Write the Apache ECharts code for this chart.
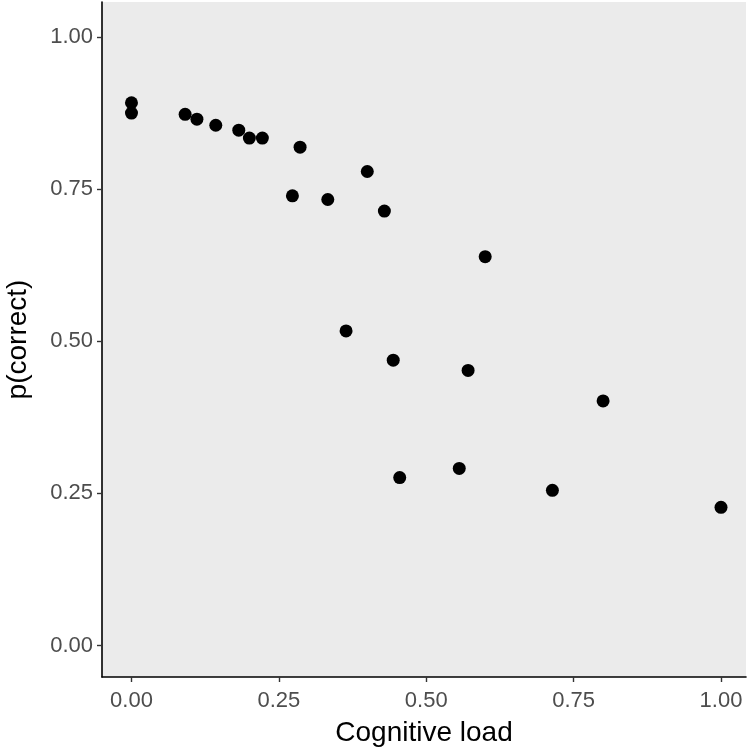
<!DOCTYPE html>
<html>
<head>
<meta charset="utf-8">
<script src="https://cdn.jsdelivr.net/npm/echarts@6/dist/echarts.min.js"></script>
<style>
  html, body { margin: 0; padding: 0; background: #ffffff; }
  #chart { width: 747px; height: 749px; }
</style>
</head>
<body>
<div id="chart"></div>
<script>
// Data
const cognitiveLoad = [0, 0, 0.091, 0.111, 0.143, 0.182, 0.200, 0.222, 0.286, 0.273, 0.333, 0.400, 0.429, 0.600, 0.364, 0.444, 0.571, 0.800, 0.455, 0.556, 0.714, 1.000];
const pCorrect      = [0.892, 0.875, 0.873, 0.865, 0.855, 0.847, 0.834, 0.834, 0.819, 0.739, 0.733, 0.779, 0.714, 0.639, 0.517, 0.469, 0.452, 0.402, 0.276, 0.291, 0.255, 0.227];
const xTicks = [0, 0.25, 0.5, 0.75, 1];
const yTicks = [0, 0.25, 0.5, 0.75, 1];
const xTitle = 'Cognitive load';
const yTitle = 'p(correct)';

const points = cognitiveLoad.map((x, i) => [x, pCorrect[i]]);
const fontFamily = '"Liberation Sans", Arial, Helvetica, sans-serif';

const chart = echarts.init(document.getElementById('chart'), null, { renderer: 'canvas' });
chart.setOption({
  animation: false,
  backgroundColor: '#ffffff',
  grid: {
    left: 102, right: 1, top: 2, bottom: 72,
    containLabel: false, outerBoundsMode: 'none',
    show: true, backgroundColor: '#EBEBEB', borderWidth: 0
  },
  xAxis: {
    type: 'value',
    min: -0.05, max: 1.0424,
    splitLine: { show: false },
    axisLine: { show: true, onZero: false, lineStyle: { color: '#000000', width: 1.6 } },
    axisTick: { show: true, length: 5, customValues: xTicks, lineStyle: { color: '#333333', width: 1.4 } },
    axisLabel: {
      show: true, customValues: xTicks, margin: 13,
      formatter: v => Number(v).toFixed(2),
      color: '#4D4D4D', fontSize: 22, fontFamily: fontFamily
    },
    name: xTitle, nameLocation: 'middle', nameGap: 42,
    nameTextStyle: { color: '#000000', fontSize: 28, fontFamily: fontFamily }
  },
  yAxis: {
    type: 'value',
    min: -0.0518, max: 1.0576,
    splitLine: { show: false },
    axisLine: { show: true, onZero: false, lineStyle: { color: '#000000', width: 1.6 } },
    axisTick: { show: true, length: 5, customValues: yTicks, lineStyle: { color: '#333333', width: 1.4 } },
    axisLabel: {
      show: true, customValues: yTicks, margin: 9,
      formatter: v => Number(v).toFixed(2),
      color: '#4D4D4D', fontSize: 22, fontFamily: fontFamily
    },
    name: yTitle, nameLocation: 'middle', nameGap: 70, nameRotate: 90,
    nameTextStyle: { color: '#000000', fontSize: 28, fontFamily: fontFamily }
  },
  series: [{
    type: 'scatter',
    data: points,
    symbol: 'circle',
    symbolSize: 13,
    itemStyle: { color: '#000000', opacity: 1 },
    emphasis: { disabled: true }
  }]
});
</script>
</body>
</html>
